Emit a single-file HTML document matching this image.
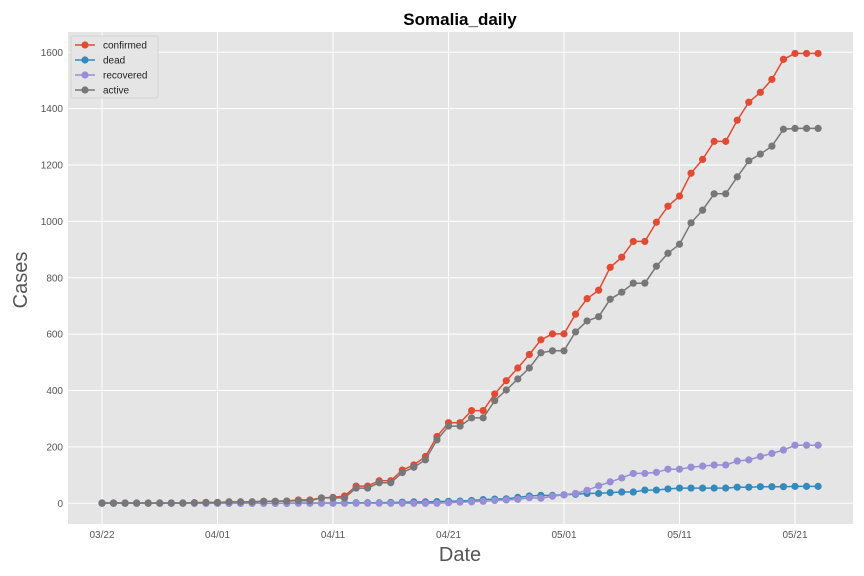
<!DOCTYPE html>
<html><head><meta charset="utf-8"><style>
html,body{margin:0;padding:0;background:#fff;}
svg{display:block;font-family:"Liberation Sans",sans-serif;}
</style></head><body>
<svg id="chart" width="864" height="576" viewBox="0 0 864 576" xmlns="http://www.w3.org/2000/svg">
<rect x="0" y="0" width="864" height="576" fill="#fff"/>
<rect x="68" y="32" width="785" height="492" fill="#E5E5E5"/>
<g id="grid"></g>
<g id="series"></g>
<g id="ticks"></g>
<text x="460" y="25" text-anchor="middle" font-size="17" font-weight="bold" fill="#000">Somalia_daily</text>
<text x="460" y="561" text-anchor="middle" font-size="20" fill="#555">Date</text>
<text transform="translate(27,280) rotate(-90)" text-anchor="middle" font-size="20" fill="#555">Cases</text>
<g id="legend"></g>
</svg>
<script>
const dates = ["03/22","04/01","04/11","04/21","05/01","05/11","05/21"];
const dateIdx = [0,10,20,30,40,50,60];
const yTicks = [0,200,400,600,800,1000,1200,1400,1600];
const seriesNames = ["confirmed","dead","recovered","active"];
const confirmed = [1,1,1,1,1,1,1,1,2,3,3,5,5,5,7,7,8,12,12,19,21,26,61,61,80,80,118,136,166,237,286,286,329,329,388,435,480,528,580,601,601,671,726,756,837,873,929,929,997,1054,1090,1171,1220,1284,1284,1359,1423,1458,1504,1575,1596,1596,1596];
const dead = [0,0,0,0,0,0,0,0,0,0,0,0,0,0,0,0,0,1,1,1,1,2,2,2,2,3,4,5,5,6,7,8,10,13,15,16,21,26,28,28,30,32,35,35,38,40,40,47,47,51,54,54,54,54,54,57,57,59,59,59,60,60,60];
const recovered = [0,0,0,0,0,0,0,0,0,0,0,0,0,0,0,0,0,0,0,0,0,0,0,0,0,0,0,0,0,0,2,4,5,7,10,12,14,20,18,25,30,35,46,62,76,90,106,106,110,121,121,128,132,136,136,150,154,166,177,189,206,206,206];
const active = [1,1,1,1,1,1,1,1,2,3,3,5,5,5,7,7,8,9,9,19,19,19,54,54,73,73,109,128,154,225,274,274,303,303,364,402,441,480,534,541,541,608,647,662,724,749,781,781,841,887,919,995,1040,1098,1098,1158,1215,1239,1267,1327,1330,1330,1330];
const colors = ["#E24A33","#348ABD","#988ED5","#777777"];
const NS="http://www.w3.org/2000/svg";
function X(i){return 102+i*11.55;}
function Y(v){return 503.3-v*0.28188;}
function mk(tag,attrs,parent){const e=document.createElementNS(NS,tag);for(const k in attrs)e.setAttribute(k,attrs[k]);parent.appendChild(e);return e;}
const grid=document.getElementById('grid'),ticks=document.getElementById('ticks'),ser=document.getElementById('series'),leg=document.getElementById('legend');
yTicks.forEach(v=>{
  const l=mk('line',{x1:68,x2:853,y1:Y(v),y2:Y(v),stroke:'#fff','stroke-width':1},grid);
  
  
  const t=mk('text',{x:63,y:Y(v)+3.5,'text-anchor':'end','font-size':10,fill:'#555'},ticks);
  t.textContent=v;
  
  
});
dateIdx.forEach((d,k)=>{
  const l=mk('line',{x1:X(d),x2:X(d),y1:32,y2:524,stroke:'#fff','stroke-width':1},grid);
  
  
  const t=mk('text',{x:X(d),y:538,'text-anchor':'middle','font-size':10,fill:'#555'},ticks);
  t.textContent=dates[k];
  
  
});
[confirmed,dead,recovered,active].forEach((arr,s)=>{
  const g=mk('g',{},ser);
  
  
  const pts=arr.map((v,i)=>X(i).toFixed(1)+','+Y(v).toFixed(1)).join(' ');
  const pl=mk('polyline',{points:pts,fill:'none',stroke:colors[s],'stroke-width':1.5},g);
  
  
  arr.forEach((v,i)=>{
    const c=mk('circle',{cx:X(i),cy:Y(v),r:3.6,fill:colors[s]},g);
    
    
  });
});
mk('rect',{x:71,y:36,width:87,height:62,fill:'#E5E5E5',stroke:'#ccc','stroke-width':0.8,rx:2,opacity:0.9},leg);
seriesNames.forEach((n,s)=>{
  const y=45+s*15;
  const g=mk('g',{},leg);
  
  
  mk('line',{x1:75,x2:95,y1:y,y2:y,stroke:colors[s],'stroke-width':1.5},g);
  mk('circle',{cx:85,cy:y,r:3.6,fill:colors[s]},g);
  const t=mk('text',{x:103,y:y+3.5,'font-size':10,fill:'#222'},g);
  t.textContent=n;
});
</script>
</body></html>
